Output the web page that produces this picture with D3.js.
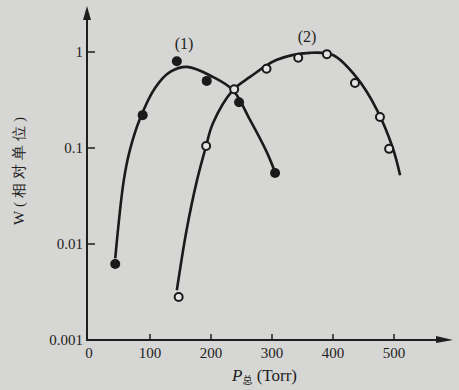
<!DOCTYPE html>
<html>
<head>
<meta charset="utf-8">
<script src="https://cdn.jsdelivr.net/npm/d3@7"></script>
<style>
  body { margin: 0; background: #d6d6d4; }
  svg { display: block; }
  text { fill: #1e1e1e; font-family: "Liberation Serif", "DejaVu Serif", serif; }
</style>
</head>
<body>
<svg width="459" height="390"></svg>
<script>
// measured points, curve (1): filled dots
var p1X = [43, 88, 144, 193, 246, 305];
var p1Y = [0.0062, 0.22, 0.80, 0.50, 0.30, 0.055];
// measured points, curve (2): open circles
var p2X = [147, 192, 238, 291, 343, 390, 436, 477, 492];
var p2Y = [0.0028, 0.105, 0.41, 0.67, 0.87, 0.95, 0.475, 0.21, 0.098];

// hand-drawn fitted curves
var c1X = [43, 57, 67, 84, 108, 133, 161, 203, 236, 264, 292, 305];
var c1Y = [0.0071, 0.046, 0.095, 0.205, 0.42, 0.62, 0.70, 0.55, 0.40, 0.196, 0.089, 0.056];
var c2X = [144, 160, 177, 192, 203, 236, 264, 308, 362, 400, 439, 472, 498, 510];
var c2Y = [0.0033, 0.014, 0.046, 0.105, 0.18, 0.40, 0.55, 0.83, 0.98, 0.93, 0.54, 0.25, 0.10, 0.052];

var xTicks = [100, 200, 300, 400, 500];
var yTicks = [1, 0.1, 0.01];
var yTickLabels = ["1", "0.1", "0.01", "0.001"];
var yLabelVals = [1, 0.1, 0.01, 0.001];

var svg = d3.select("svg");

var x = d3.scaleLinear().domain([0, 500]).range([89, 394]);
var y = d3.scaleLog().domain([0.001, 1]).range([340, 52]);

var axisX0 = 87, axisY0 = 340;

function zip(a, b) { return a.map(function(d, i) { return [d, b[i]]; }); }

// axes lines
svg.append("line").attr("x1", axisX0).attr("x2", axisX0).attr("y1", axisY0 + 1).attr("y2", 14)
  .attr("stroke", "#1e1e1e").attr("stroke-width", 2);
svg.append("path").attr("d", "M" + axisX0 + ",6 L" + (axisX0 - 4) + ",20 L" + (axisX0 + 4) + ",20 Z")
  .attr("fill", "#1e1e1e");
svg.append("line").attr("x1", axisX0 - 1).attr("x2", 440).attr("y1", axisY0).attr("y2", axisY0)
  .attr("stroke", "#1e1e1e").attr("stroke-width", 2);
svg.append("path").attr("d", "M453," + axisY0 + " L436," + (axisY0 - 4) + " L436," + (axisY0 + 3) + " Z")
  .attr("fill", "#1e1e1e");

// x axis ticks + labels
var gx = svg.append("g");
gx.selectAll("line").data(xTicks).enter().append("line")
  .attr("x1", function(d) { return x(d); }).attr("x2", function(d) { return x(d); })
  .attr("y1", axisY0).attr("y2", axisY0 - 6)
  .attr("stroke", "#1e1e1e").attr("stroke-width", 1.5);
gx.selectAll("text").data([0].concat(xTicks)).enter().append("text")
  .attr("x", function(d) { return x(d); }).attr("y", axisY0 + 18)
  .attr("text-anchor", "middle").attr("font-size", 15)
  .text(function(d) { return d; });

// y axis ticks + labels
var gy = svg.append("g");
gy.selectAll("line").data(yTicks).enter().append("line")
  .attr("x1", axisX0).attr("x2", axisX0 + 8)
  .attr("y1", function(d) { return y(d); }).attr("y2", function(d) { return y(d); })
  .attr("stroke", "#1e1e1e").attr("stroke-width", 1.5);
gy.selectAll("text").data(yLabelVals).enter().append("text")
  .attr("x", 83).attr("y", function(d) { return y(d) + 5; })
  .attr("text-anchor", "end").attr("font-size", 15)
  .text(function(d, i) { return yTickLabels[i]; });

// curves
var line = d3.line().curve(d3.curveCatmullRom.alpha(0.5))
  .x(function(d) { return x(d[0]); }).y(function(d) { return y(d[1]); });

svg.append("path").datum(zip(c1X, c1Y)).attr("d", line)
  .attr("fill", "none").attr("stroke", "#1a1a1a").attr("stroke-width", 2.6);
svg.append("path").datum(zip(c2X, c2Y)).attr("d", line)
  .attr("fill", "none").attr("stroke", "#1a1a1a").attr("stroke-width", 2.6);

// points
svg.selectAll(".p1").data(zip(p1X, p1Y)).enter().append("circle")
  .attr("class", "p1")
  .attr("cx", function(d) { return x(d[0]); }).attr("cy", function(d) { return y(d[1]); })
  .attr("r", 5).attr("fill", "#1a1a1a");
svg.selectAll(".p2").data(zip(p2X, p2Y)).enter().append("circle")
  .attr("class", "p2")
  .attr("cx", function(d) { return x(d[0]); }).attr("cy", function(d) { return y(d[1]); })
  .attr("r", 4).attr("fill", "#e4e4e2").attr("stroke", "#1a1a1a").attr("stroke-width", 2);

// curve labels
svg.append("text").attr("x", 184).attr("y", 49).attr("text-anchor", "middle")
  .attr("font-size", 16).text("(1)");
svg.append("text").attr("x", 307).attr("y", 42).attr("text-anchor", "middle")
  .attr("font-size", 16).text("(2)");

// axis titles
var xl = svg.append("text").attr("x", 232).attr("y", 381).attr("font-size", 17);
xl.append("tspan").attr("font-style", "italic").text("P");
xl.append("tspan").attr("font-size", 10).attr("dy", 3)
  .attr("font-family", "'Noto Sans CJK SC'").text("总");
xl.append("tspan").attr("dy", -3).text(" (Torr)");

svg.append("text")
  .attr("transform", "translate(24,169) rotate(-90)")
  .attr("text-anchor", "middle").attr("font-size", 15)
  .attr("letter-spacing", 4)
  .attr("font-family", "'Noto Sans CJK SC', serif")
  .text("W(相对单位)");
</script>
</body>
</html>
